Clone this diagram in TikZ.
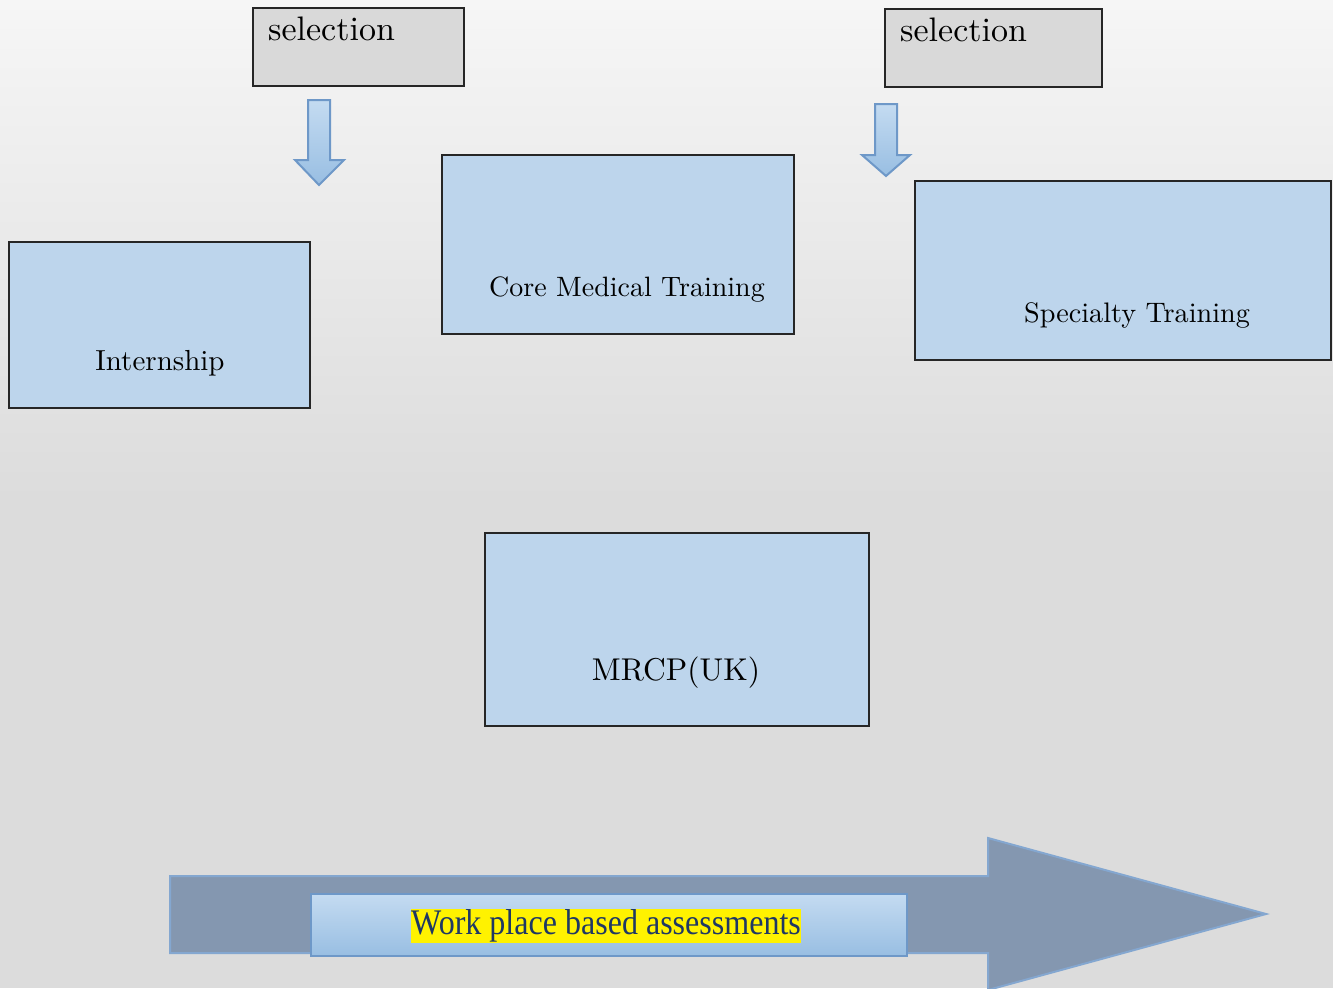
\documentclass[tikz,border=0pt]{standalone}
\usepackage{fontspec}
\setmainfont{lmroman10-regular.otf}
\newfontfamily\timesfont{Liberation Serif}
\definecolor{bgtop}{RGB}{246,246,246}
\definecolor{bgbot}{RGB}{220,220,220}
\definecolor{boxblue}{RGB}{189,213,236}
\definecolor{selgray}{RGB}{217,217,217}
\definecolor{arrowtop}{RGB}{196,219,241}
\definecolor{arrowbot}{RGB}{152,190,226}
\definecolor{arrowline}{RGB}{110,152,200}
\definecolor{bigarrow}{RGB}{132,151,176}
\definecolor{wpbtext}{RGB}{31,56,100}
\tikzset{
  stagebox/.style={draw=black!85, line width=1.1pt, fill=boxblue, inner sep=0pt},
  selbox/.style={draw=black!85, line width=1.1pt, fill=selgray, inner sep=0pt},
  downarrow/.style={draw=arrowline, line width=2pt, top color=arrowtop, bottom color=arrowbot, line join=miter},
  boxtext/.style={anchor=base, inner sep=0pt, text=black},
}
\begin{document}
\begin{tikzpicture}[x=1pt,y=-1pt]
\useasboundingbox (0,0) rectangle (1333,988);
\shade[top color=bgtop, bottom color=bgbot] (0,0) rectangle (1333,500);
\fill[bgbot] (0,499) rectangle (1333,988);

% selection boxes
\node[selbox, minimum width=211pt, minimum height=78pt] (sel1) at (358.5,47) {};
\node[boxtext, anchor=base west, font=\fontsize{34}{40}\selectfont] (sel1t) at (268,40) {selection};
\node[selbox, minimum width=217pt, minimum height=78pt] (sel2) at (993.5,48) {};
\node[boxtext, anchor=base west, font=\fontsize{34}{40}\selectfont] (sel2t) at (900,41) {selection};

% down arrows
\path[downarrow] (308,100) -- (330,100) -- (330,160) -- (344,160) -- (319,185) -- (295,160) -- (308,160) -- cycle;
\path[downarrow] (875,104) -- (897,104) -- (897,155) -- (910,155) -- (886,176) -- (862,155) -- (875,155) -- cycle;

% stage boxes
\node[stagebox, minimum width=301pt, minimum height=166pt] (intern) at (159.5,325) {};
\node[boxtext, font=\fontsize{29}{34}\selectfont] (internt) at (160,370) {Internship};
\node[stagebox, minimum width=352pt, minimum height=179pt] (cmt) at (618,244.5) {};
\node[boxtext, font=\fontsize{28}{34}\selectfont] (cmtt) at (627,296) {Core Medical Training};
\node[stagebox, minimum width=416pt, minimum height=179pt] (spec) at (1123,270.5) {};
\node[boxtext, font=\fontsize{28.2}{34}\selectfont] (spect) at (1137,322) {Specialty Training};
\node[stagebox, minimum width=384pt, minimum height=193pt] (mrcp) at (677,629.5) {};
\node[boxtext, font=\fontsize{31.5}{36}\selectfont] (mrcpt) at (676,680) {MRCP(UK)};

% big arrow
\path[draw=arrowline!85!white, line width=2pt, fill=bigarrow, line join=miter]
  (170,876) -- (988,876) -- (988,838) -- (1266,914) -- (988,990) -- (988,953) -- (170,953) -- cycle;
\node[draw=arrowline, line width=2.5pt, top color=arrowtop, bottom color=arrowbot, minimum width=596pt, minimum height=62pt, inner sep=0pt] (wpb) at (609,925) {};
\node[fill=yellow, inner sep=0pt, text=wpbtext, font=\timesfont\fontsize{36}{40}\selectfont, text height=25pt, text depth=9pt] (wpbt) at (606,926) {\scalebox{0.89}[1]{Work place based assessments}};
\end{tikzpicture}
\end{document}
